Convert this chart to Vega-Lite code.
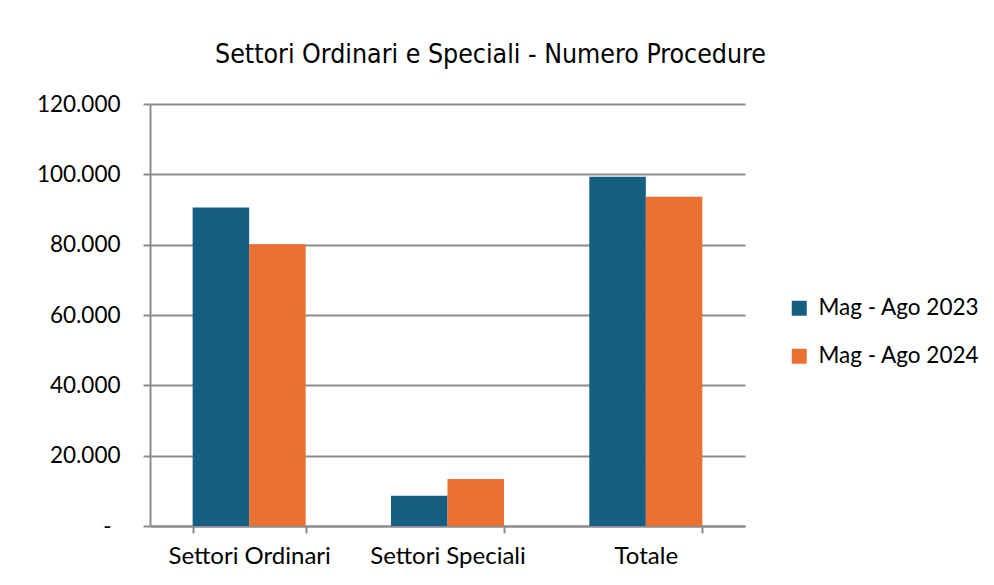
{
  "$schema": "https://vega.github.io/schema/vega-lite/v6.json",
  "width": 595,
  "height": 422,
  "autosize": {"type": "none"},
  "padding": {"left": 150, "top": 104, "right": 249, "bottom": 59},
  "background": "white",
  "title": {
    "text": "Settori Ordinari e Speciali - Numero Procedure",
    "font": "'DejaVu Sans Condensed', Roboto, sans-serif",
    "fontSize": 26.5,
    "fontWeight": 500,
    "color": "#000000",
    "anchor": "middle",
    "dx": 43,
    "offset": 25
  },
  "data": {
    "values": [
      {"settore": "Settori Ordinari", "periodo": "Mag - Ago 2023", "valore": 90600},
      {"settore": "Settori Ordinari", "periodo": "Mag - Ago 2024", "valore": 80100},
      {"settore": "Settori Speciali", "periodo": "Mag - Ago 2023", "valore": 8600},
      {"settore": "Settori Speciali", "periodo": "Mag - Ago 2024", "valore": 13400},
      {"settore": "Totale", "periodo": "Mag - Ago 2023", "valore": 99300},
      {"settore": "Totale", "periodo": "Mag - Ago 2024", "valore": 93600}
    ]
  },
  "mark": {"type": "bar"},
  "encoding": {
    "x": {
      "field": "settore",
      "type": "nominal",
      "sort": ["Settori Ordinari", "Settori Speciali", "Totale"],
      "scale": {"paddingInner": 0.43, "paddingOuter": 0.215},
      "axis": {
        "title": null,
        "labelAngle": 0,
        "tickBand": "extent",
        "domainColor": "#8c8c8c",
        "domainWidth": 2,
        "tickColor": "#8c8c8c",
        "tickWidth": 2,
        "tickSize": 7,
        "labelFont": "Lato",
        "labelFontSize": 24,
        "labelColor": "#000000",
        "labelPadding": 11,
        "labelLimit": 250
      }
    },
    "xOffset": {"field": "periodo", "type": "nominal"},
    "y": {
      "field": "valore",
      "type": "quantitative",
      "scale": {"domain": [0, 120000]},
      "axis": {
        "title": null,
        "values": [0, 20000, 40000, 60000, 80000, 100000, 120000],
        "labelExpr": "datum.value == 0 ? '-' : replace(format(datum.value, ',.0f'), ',', '.')",
        "labelPadding": {"condition": {"test": "datum.value == 0", "value": 32}, "value": 23},
        "grid": true,
        "gridColor": "#8c8c8c",
        "gridWidth": 2,
        "domain": true,
        "domainColor": "#8c8c8c",
        "domainWidth": 2,
        "tickColor": "#8c8c8c",
        "tickWidth": 2,
        "tickSize": 7,
        "labelFont": "Lato",
        "labelFontSize": 22.5,
        "labelColor": "#000000"
      }
    },
    "color": {
      "field": "periodo",
      "type": "nominal",
      "scale": {"range": ["#156082", "#E97132"]},
      "legend": {
        "title": null,
        "orient": "none",
        "legendX": 638,
        "legendY": 193,
        "symbolType": "square",
        "symbolSize": 225,
        "symbolStrokeWidth": 0,
        "labelFont": "Lato",
        "labelFontSize": 22.5,
        "labelColor": "#000000",
        "labelOffset": 8,
        "labelLimit": 250,
        "rowPadding": 25
      }
    }
  },
  "config": {"view": {"stroke": null}}
}
